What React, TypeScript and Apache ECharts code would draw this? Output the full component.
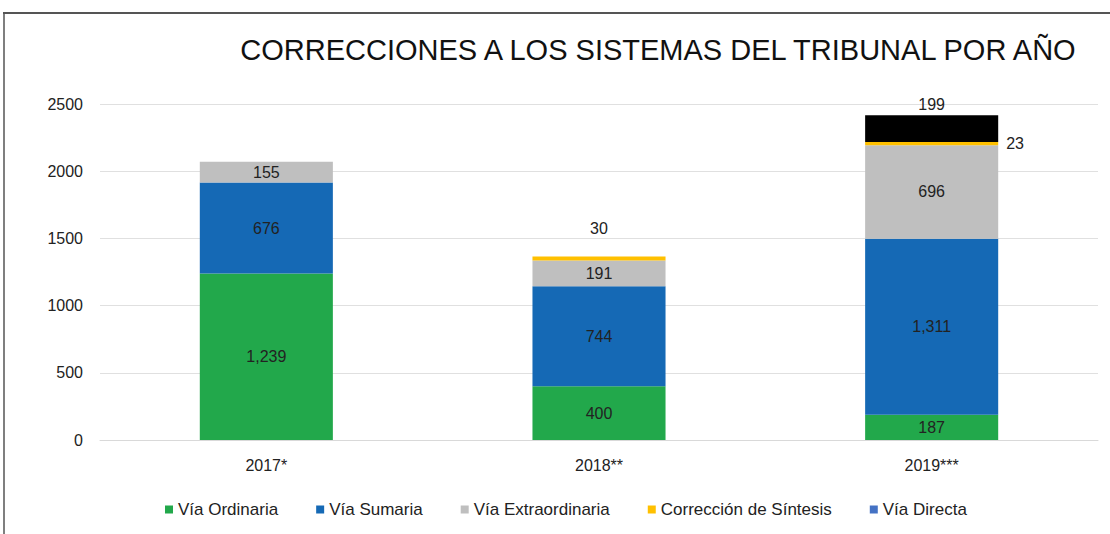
import React, { useEffect, useRef } from "react";
import * as echarts from "echarts";

const categories = ["2017*", "2018**", "2019***"];
const viaOrdinaria = [1239, 400, 187];
const viaSumaria = [676, 744, 1311];
const viaExtraordinaria = [155, 191, 696];
const correccionSintesis: (number | null)[] = [null, 30, 23];
const viaDirecta: (number | null)[] = [null, null, 199];
const yTicks = { min: 0, max: 2500, interval: 500 };

const fmt = (p: any) =>
  p.value == null ? "" : Number(p.value).toLocaleString("en-US");

const font = "Liberation Sans, Arial, sans-serif";

const labelBase = {
  show: true,
  position: "inside",
  color: "#222",
  fontSize: 16,
  fontFamily: font,
  formatter: fmt,
};

export default function App() {
  const ref = useRef<HTMLDivElement>(null);
  useEffect(() => {
    const chart = echarts.init(ref.current!, null, { renderer: "svg" });
    chart.setOption({
      animation: false,
      backgroundColor: "#fff",
      title: {
        text: "CORRECCIONES A LOS SISTEMAS DEL TRIBUNAL POR AÑO",
        left: 653,
        textAlign: "center",
        top: 30,
        textStyle: { fontFamily: font, fontSize: 29, fontWeight: "normal", color: "#111" },
      },
      legend: {
        bottom: 11,
        left: 160,
        icon: "rect",
        itemWidth: 8,
        itemHeight: 8,
        itemGap: 38,
        textStyle: { fontFamily: font, fontSize: 17, color: "#222" },
        data: [
          { name: "Vía Ordinaria" },
          { name: "Vía Sumaria" },
          { name: "Vía Extraordinaria" },
          { name: "Corrección de Síntesis" },
          { name: "Vía Directa", itemStyle: { color: "#4472C4" } },
        ],
      },
      grid: { left: 100, right: 12, top: 104, bottom: 94 },
      xAxis: {
        type: "category",
        data: categories,
        axisTick: { show: false },
        axisLine: { lineStyle: { color: "#d9d9d9" } },
        axisLabel: { margin: 17, fontFamily: font, fontSize: 16, color: "#222" },
      },
      yAxis: {
        type: "value",
        min: yTicks.min,
        max: yTicks.max,
        interval: yTicks.interval,
        axisLabel: {
          margin: 17,
          fontFamily: font,
          fontSize: 16,
          color: "#222",
          formatter: (v: number) => String(v),
        },
        splitLine: { lineStyle: { color: "#e0e0e0" } },
      },
      graphic: [
        { type: "line", shape: { x1: 3, y1: 13, x2: 1110, y2: 13 }, style: { stroke: "#555", lineWidth: 2 } },
        { type: "line", shape: { x1: 4, y1: 13, x2: 4, y2: 534 }, style: { stroke: "#555", lineWidth: 1.5 } },
      ],
      series: [
        {
          name: "Vía Ordinaria",
          type: "bar",
          stack: "t",
          barWidth: "40%",
          itemStyle: { color: "#22A84B" },
          label: labelBase,
          data: viaOrdinaria,
        },
        {
          name: "Vía Sumaria",
          type: "bar",
          stack: "t",
          itemStyle: { color: "#1569B5" },
          label: labelBase,
          data: viaSumaria,
        },
        {
          name: "Vía Extraordinaria",
          type: "bar",
          stack: "t",
          itemStyle: { color: "#BFBFBF" },
          label: labelBase,
          data: viaExtraordinaria,
        },
        {
          name: "Corrección de Síntesis",
          type: "bar",
          stack: "t",
          itemStyle: { color: "#FFC000" },
          label: labelBase,
          data: correccionSintesis.map((v, i) =>
            i === 1
              ? { value: v, label: { position: "top", distance: 20 } }
              : i === 2
              ? { value: v, label: { position: "right", distance: 8 } }
              : { value: v }
          ),
        },
        {
          name: "Vía Directa",
          type: "bar",
          stack: "t",
          itemStyle: { color: "#000000" },
          label: { ...labelBase, position: "top", distance: 3 },
          data: viaDirecta,
        },
      ],
    });
    return () => chart.dispose();
  }, []);
  return (
    <div
      ref={ref}
      style={{ position: "fixed", left: 0, top: 0, width: 1110, height: 534 }}
    />
  );
}
